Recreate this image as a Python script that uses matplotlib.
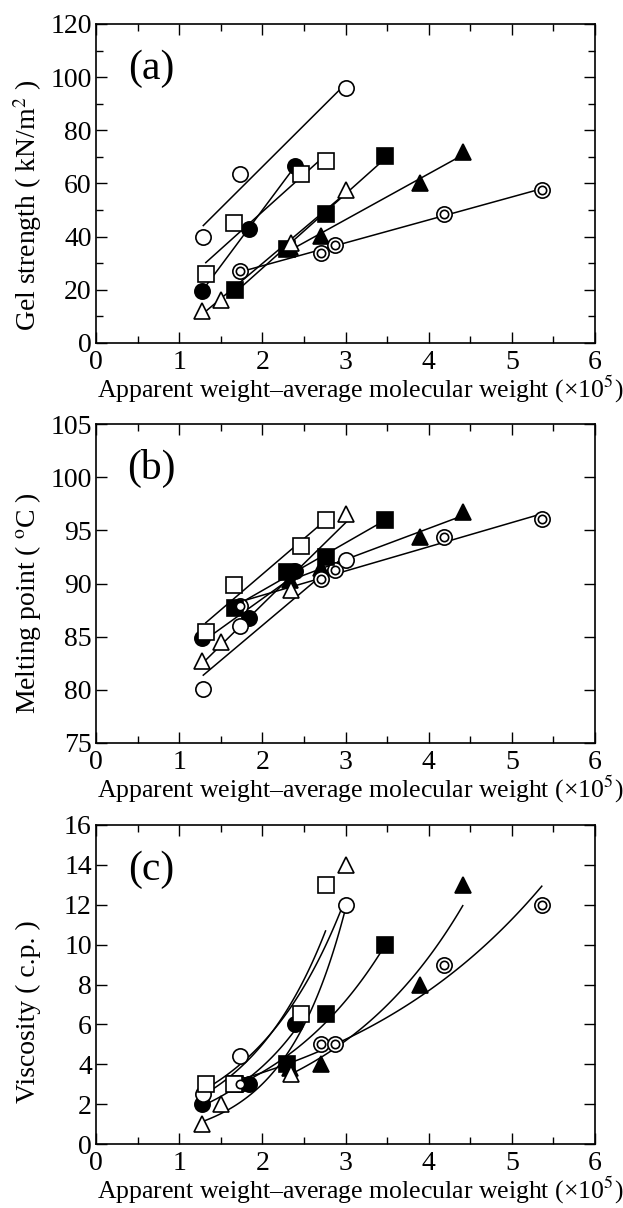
import numpy as np
import matplotlib
matplotlib.use("Agg")
import matplotlib.pyplot as plt
from matplotlib.ticker import MultipleLocator

plt.rcParams["font.family"] = ["Liberation Serif", "DejaVu Serif"]
plt.rcParams["mathtext.fontset"] = "stix"

# Apparent weight-average molecular weight (x10^5) per sample series
mw_open_circle = [1.29, 1.73, 3.00]
mw_filled_circle = [1.27, 1.84, 2.39]
mw_open_square = [1.32, 1.66, 2.46, 2.76]
mw_filled_square = [1.67, 2.30, 2.77, 3.48]
mw_open_triangle = [1.28, 1.50, 2.34, 3.01]
mw_filled_triangle = [2.33, 2.70, 3.89, 4.41]
mw_double_circle = [1.73, 2.71, 2.87, 4.19, 5.36]

# (a) gel strength, kN/m^2
gel_open_circle = [40, 63.5, 96]
gel_filled_circle = [19.5, 43, 66.5]
gel_open_square = [26, 45, 63.5, 68.5]
gel_filled_square = [20, 35.5, 48.5, 70.5]
gel_open_triangle = [12, 16, 37.5, 57.5]
gel_filled_triangle = [36, 40.2, 60.3, 72]
gel_double_circle = [27, 34, 37, 48.7, 57.7]

# (b) melting point, deg C
mp_open_circle = [80.1, 86.0, 92.2]
mp_filled_circle = [84.9, 86.8, 91.2]
mp_open_square = [85.4, 89.9, 93.5, 96.0]
mp_filled_square = [87.7, 91.1, 92.5, 96.0]
mp_open_triangle = [82.7, 84.5, 89.4, 96.5]
mp_filled_triangle = [90.3, 91.5, 94.4, 96.7]
mp_double_circle = [87.9, 90.4, 91.3, 94.4, 96.1]

# (c) viscosity, c.p.
visc_open_circle = [2.5, 4.4, 12.0]
visc_filled_circle = [2.0, 3.0, 6.0]
visc_open_square = [3.0, 3.0, 6.5, 13.0]
visc_filled_square = [3.0, 4.0, 6.5, 10.0]
visc_open_triangle = [1.0, 2.0, 3.5, 14.0]
visc_filled_triangle = [3.8, 4.0, 8.0, 13.0]
visc_double_circle = [3.0, 5.0, 5.0, 9.0, 12.0]

# marker, face colour -- filled triangle first so the others sit on top of it
STYLES = [
    ("filled_triangle", "^", "black"),
    ("double_circle", "o", "white"),
    ("filled_square", "s", "black"),
    ("open_triangle", "^", "white"),
    ("filled_circle", "o", "black"),
    ("open_circle", "o", "white"),
    ("open_square", "s", "white"),
]

MW = {k[0]: globals()["mw_" + k[0]] for k in STYLES}
PANELS = [
    ("gel", "(a)", "Gel strength ( kN/m$^2$ )", (0, 120), 20, 10, "linear"),
    ("mp", "(b)", "Melting point ( $^{\\mathrm{o}}$C )", (75, 105), 5, None, "linear"),
    ("visc", "(c)", "Viscosity ( c.p. )", (0, 16), 2, None, "exp"),
]

W, H = 623, 1208
fig = plt.figure(figsize=(W / 100, H / 100), dpi=100)
ax_boxes = [(24, 343), (424, 743), (825, 1144)]
label_centres = [205, 603, 1012]
left_px, right_px = 96, 595

for (key, tag, ylabel, ylim, major, minor, fit), (top, bot), lc in zip(PANELS, ax_boxes, label_centres):
    ax = fig.add_axes([left_px / W, 1 - bot / H, (right_px - left_px) / W, (bot - top) / H])
    for name, marker, face in STYLES:
        x = np.array(MW[name])
        y = np.array(globals()[f"{key}_{name}"])
        xs = np.linspace(x.min(), x.max(), 100)
        if fit == "linear":
            ys = np.polyval(np.polyfit(x, y, 1), xs)
        else:
            ys = np.exp(np.polyval(np.polyfit(x, np.log(y), 1), xs))
        ax.plot(xs, ys, color="black", lw=1.1, zorder=1)
        ax.plot(x, y, linestyle="none", marker=marker, ms=11, mfc=face,
                mec="black", mew=1.2, zorder=3)
        if name == "double_circle":
            ax.plot(x, y, linestyle="none", marker="o", ms=6, mfc="white",
                    mec="black", mew=1.2, zorder=4)

    ax.set_xlim(0, 6)
    ax.set_ylim(*ylim)
    ax.xaxis.set_major_locator(MultipleLocator(1))
    ax.xaxis.set_minor_locator(MultipleLocator(0.5))
    ax.yaxis.set_major_locator(MultipleLocator(major))
    if minor:
        ax.yaxis.set_minor_locator(MultipleLocator(minor))
    ax.tick_params(which="both", direction="in", top=True, right=True,
                   labelsize=20, width=1.0)
    ax.tick_params(axis="x", pad=5)
    ax.tick_params(axis="y", pad=3)
    ax.tick_params(which="major", length=8)
    ax.tick_params(which="minor", length=5)
    for sp in ax.spines.values():
        sp.set_linewidth(1.2)
    ax.set_xlabel("Apparent weight\u2013average molecular weight (\u00d710$^5$)",
                  fontsize=18.5, labelpad=-1)
    # the reference label sits a little right of the axes centre
    ax.xaxis.label.set_x((360 - left_px) / (right_px - left_px))
    ax.text(0.11, 0.86, tag, transform=ax.transAxes, ha="center", va="center",
            fontsize=30)
    fig.text(28 / W, 1 - lc / H, ylabel, rotation=90, ha="center", va="center",
             fontsize=20)

fig.savefig("out.png", dpi=100)
